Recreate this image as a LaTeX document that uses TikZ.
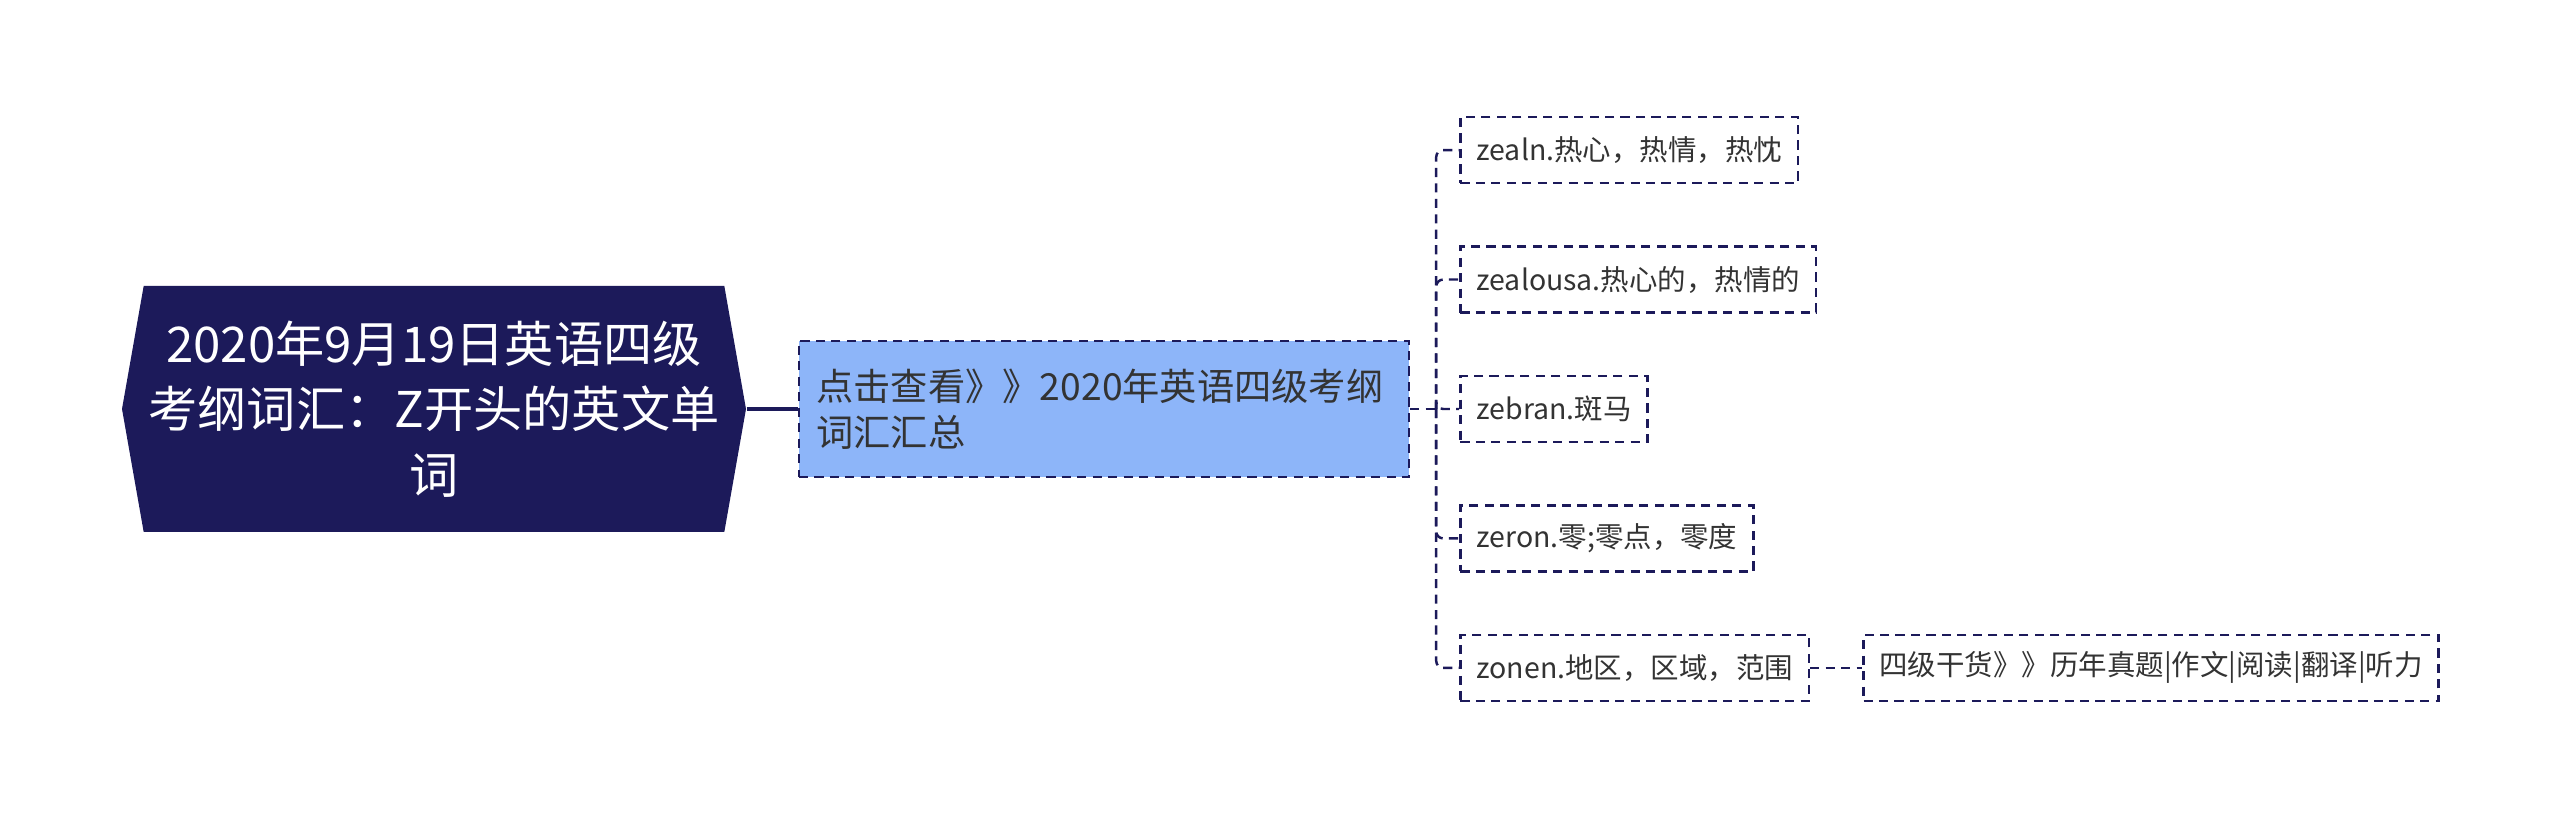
\documentclass[tikz,border=0pt]{standalone}
\usepackage{fontspec}
\setmainfont{Noto Sans CJK SC}
\usetikzlibrary{positioning, shapes.symbols}
\definecolor{navy}{HTML}{1C1A5A}
\definecolor{subblue}{HTML}{8DB5F9}
\definecolor{txtgray}{HTML}{333333}

\begin{document}
\begin{tikzpicture}[
  rootbox/.style={signal, signal to=west and east, signal pointer angle=160,
    fill=navy, text=white, minimum width=6.24cm, minimum height=2.46cm,
    align=center, inner xsep=0pt, inner ysep=2pt,
    font=\fontsize{14}{18.7}\selectfont},
  subbox/.style={rectangle, draw=navy, fill=subblue, text=txtgray,
    line width=0.7pt, dash pattern=on 2.6pt off 1.8pt,
    minimum width=6.1cm, minimum height=1.36cm, text width=5.75cm,
    align=left, font=\fontsize{10.6}{13}\selectfont},
  leaf/.style={rectangle, draw=navy, text=txtgray, line width=0.7pt,
    dash pattern=on 2.6pt off 1.8pt, minimum height=0.66cm,
    inner xsep=0.16cm, font=\fontsize{8.1}{10}\selectfont},
  link/.style={draw=navy, line width=0.7pt, dash pattern=on 2.6pt off 1.8pt,
    rounded corners=2pt}
]
\useasboundingbox (0,0) rectangle (25.6,8.18);

\node[rootbox] (root) at (4.34,4.09) {2020年9月19日英语四级\\考纲词汇：Z开头的英文单\\词};
\node[subbox, right=0.51cm of root] (sub) {点击查看》》2020年英语四级考纲\\词汇汇总};

% leaves
\node[leaf, right=0.49cm of sub] (zebra) {zebran.斑马};
\node[leaf, above right=0.61cm and 0cm of zebra.north west] (zealous) {zealousa.热心的，热情的};
\node[leaf, above right=0.61cm and 0cm of zealous.north west] (zeal) {zealn.热心，热情，热忱};
\node[leaf, below right=0.61cm and 0cm of zebra.south west] (zero) {zeron.零;零点，零度};
\node[leaf, below right=0.61cm and 0cm of zero.south west] (zone) {zonen.地区，区域，范围};
\node[leaf, right=0.52cm of zone] (ganhuo) {四级干货》》历年真题|作文|阅读|翻译|听力};

\draw[navy, line width=1.2pt] (root.east) -- (sub.west);
\coordinate[right=0.26cm of sub.east] (bus);
\draw[link] (sub.east) -- (bus);
\foreach \n in {zeal, zealous, zebra, zero, zone}
  \draw[link] (bus) |- (\n.west);
\draw[link] (zone) -- (ganhuo);
\end{tikzpicture}
\end{document}
